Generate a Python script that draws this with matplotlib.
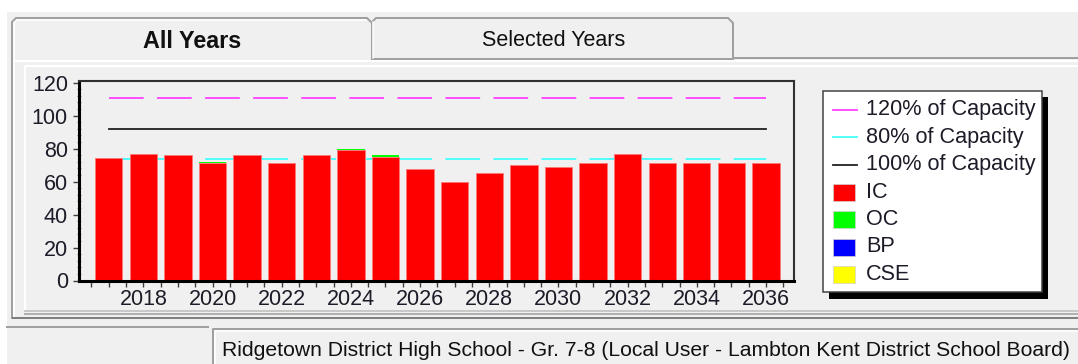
import matplotlib.pyplot as plt
from matplotlib.patches import Rectangle, Polygon

# Enrolment by year (IC / OC / BP / CSE stacked) against building capacity
years = [2017, 2018, 2019, 2020, 2021, 2022, 2023, 2024, 2025, 2026,
         2027, 2028, 2029, 2030, 2031, 2032, 2033, 2034, 2035, 2036]
ic = [74, 77, 76, 71, 76, 71, 76, 79, 75, 67.5,
      60, 65, 70, 69, 71, 77, 71, 71, 71, 71]
oc = [0, 0, 0, 1, 0, 0, 0, 1, 1, 0,
      0, 0, 0, 0, 0, 0, 0, 0, 0, 0]
bp = [0, 0, 0, 0, 0, 0, 0, 0, 0, 0,
      0, 0, 0, 0, 0, 0, 0, 0, 0, 0]
cse = [0, 0, 0, 0, 0, 0, 0, 0, 0, 0,
       0, 0, 0, 0, 0, 0, 0, 0, 0, 0]
capacity = 92

series = [('IC', ic, '#ff0000'), ('OC', oc, '#00ff00'),
          ('BP', bp, '#0000ff'), ('CSE', cse, '#ffff00')]
cap_lines = [('120% of Capacity', 1.2, '#ff40ff', (0, (25, 9.6))),
             ('80% of Capacity', 0.8, '#40ffff', (0, (25, 9.6))),
             ('100% of Capacity', 1.0, '#202020', '-')]

W, H = 1078, 364
FONT = 'Liberation Sans'
GREY = '#f0f0f0'
EDGE = '#a0a0a0'
TXT = '#1c1c28'

plt.rcParams['font.family'] = FONT
plt.rcParams['lines.scale_dashes'] = False


def box(l, t, r, b):
    # pixel box (left, top, right, bottom) -> figure fraction rect
    return [l / W, 1 - b / H, (r - l) / W, (b - t) / H]


fig = plt.figure(figsize=(W / 100, H / 100), dpi=100)
fig.patch.set_facecolor(GREY)

# window chrome: tabs, panels, status bar (pixel coordinates, y down)
bg = fig.add_axes([0, 0, 1, 1], zorder=0)
bg.set_xlim(0, W)
bg.set_ylim(H, 0)
bg.axis('off')

px = 0.72  # one pixel in points
bg.add_patch(Rectangle((0, 0), W, 12, color='white', lw=0))
bg.add_patch(Rectangle((0, 0), 7, H, color='white', lw=0))

# tab page
bg.add_patch(Rectangle((12, 58), W, 260, facecolor=GREY, edgecolor=EDGE, lw=2 * px))
bg.plot([14, 14], [60, 316], color='white', lw=2 * px)
bg.plot([14, W], [61, 61], color='white', lw=2 * px)
bg.plot([13, W], [318, 318], color='#808080', lw=2 * px)

# inner chart panel
bg.add_patch(Rectangle((25, 66), W, 245, facecolor=GREY, edgecolor='none'))
bg.plot([25, 25, W], [311, 66, 66], color='white', lw=2 * px)
bg.plot([25, W], [311, 311], color='#c8c8c8', lw=2 * px)
bg.plot([25, W], [314, 314], color='#b0b0b0', lw=2 * px)

# tabs
bg.add_patch(Polygon([(372, 59), (372, 22), (376, 18), (728, 18), (733, 23), (733, 59)],
                     closed=True, facecolor=GREY, edgecolor=EDGE, lw=2 * px))
bg.plot([373, 373], [22, 58], color='white', lw=1.5 * px)
bg.add_patch(Polygon([(12, 60), (12, 22), (16, 18), (367, 18), (372, 23), (372, 60)],
                     closed=False, facecolor=GREY, edgecolor=EDGE, lw=2 * px))
bg.plot([14, 14, 17, 366], [60, 23, 20, 20], color='white', lw=1.5 * px)
bg.text(192, 42, 'All Years', ha='center', va='center', fontsize=16.8,
        fontweight='bold', color='#101010')
bg.text(554, 40, 'Selected Years', ha='center', va='center', fontsize=15.5,
        color='#101010')

# status bar
bg.add_patch(Rectangle((7, 324), W, 40, facecolor=GREY, lw=0))
bg.plot([7, 208], [327, 327], color=EDGE, lw=2 * px)
bg.plot([213, 213, W], [H, 329, 329], color=EDGE, lw=2 * px)
bg.plot([215, 215, W], [H, 331, 331], color='white', lw=1.5 * px)
bg.text(222, 351, 'Ridgetown District High School - Gr. 7-8 (Local User - '
        'Lambton Kent District School Board)', ha='left', va='center',
        fontsize=15.2, color='#101010')

# chart
ax = fig.add_axes(box(79, 81, 794, 280.5), zorder=1)
ax.set_facecolor(GREY)
x = list(range(len(years)))

for label, frac, color, style in cap_lines:
    ax.plot([x[0], x[-1]], [capacity * frac, capacity * frac], color=color,
            linestyle=style, lw=1.3, zorder=1, dash_capstyle='butt')

bottom = [0] * len(years)
for label, values, color in series:
    if label == 'IC':
        ax.bar(x, values, bottom=bottom, width=0.79, color=color,
               edgecolor='#ff7878', lw=0.6, zorder=2)
    else:
        ax.bar(x, values, bottom=bottom, width=0.79, color=color, lw=0, zorder=2)
    bottom = [b + v for b, v in zip(bottom, values)]

ax.set_xlim(-0.86, 19.81)
ax.set_ylim(0, 121)
ax.set_yticks(range(0, 121, 20))
ax.set_yticks(range(0, 121, 4), minor=True)
even = [i for i, yr in enumerate(years) if yr % 2 == 0]
ax.set_xticks(even)
ax.set_xticklabels([str(years[i]) for i in even])
ax.set_xticks([i - 0.5 for i in range(len(years) + 1)] + x, minor=True)

ax.tick_params(axis='both', which='major', labelsize=15.5, labelcolor=TXT,
               color='#404040', width=1, length=4)
ax.tick_params(axis='y', which='major', pad=4)
ax.tick_params(axis='x', which='major', pad=2)
ax.tick_params(axis='y', which='minor', direction='inout', length=3,
               width=0.8, color='#808080')
ax.tick_params(axis='x', which='minor', length=4, width=1, color='#404040')

for side in ['left', 'bottom']:
    ax.spines[side].set_linewidth(2.2)
    ax.spines[side].set_color('black')
for side in ['top', 'right']:
    ax.spines[side].set_linewidth(1.5)
    ax.spines[side].set_color('#303030')

# legend box with drop shadow
bg.add_patch(Rectangle((829, 97), 219, 202, color='black', lw=0, zorder=3))
bg.add_patch(Rectangle((823, 91), 219, 201, facecolor='white',
                       edgecolor='#404040', lw=1.5 * px, zorder=4))
rows = [109.5, 137, 164.5, 192, 219.5, 247, 274.5]
for (label, frac, color, style), yy in zip(cap_lines, rows[:3]):
    bg.plot([833, 857], [yy, yy], color=color, lw=1.8 * px, zorder=5)
    bg.text(866, yy, label, ha='left', va='center', fontsize=15.6, color=TXT, zorder=5)
for (label, values, color), yy in zip(series, rows[3:]):
    bg.add_patch(Rectangle((833, yy - 8.5), 22, 17, facecolor=color,
                           edgecolor='#d0d0d0', lw=0.5, zorder=5))
    bg.text(866, yy, label, ha='left', va='center', fontsize=15.6, color=TXT, zorder=5)

fig.savefig('out.png', dpi=100, facecolor=fig.get_facecolor())
